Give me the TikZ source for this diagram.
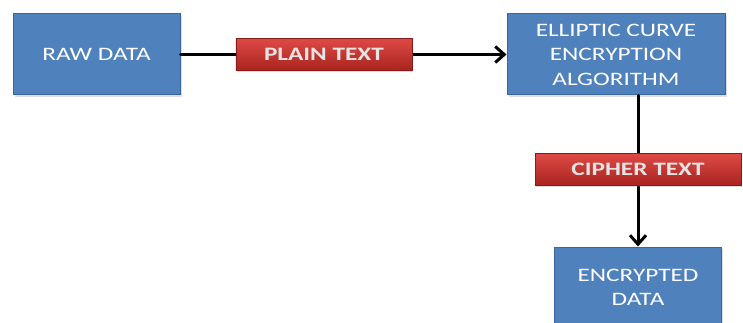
\documentclass[tikz,border=0pt]{standalone}
\usepackage{fontspec}
\setmainfont[FakeStretch=1.33]{Carlito}
\usetikzlibrary{arrows.meta, shadows}
\definecolor{boxblue}{HTML}{4F81BD}
\definecolor{boxedge}{HTML}{3A659A}
\definecolor{tagtop}{HTML}{DE4A45}
\definecolor{tagbot}{HTML}{A8231F}
\definecolor{tagtext}{HTML}{E4E4E4}

\begin{document}
\begin{tikzpicture}[x=1pt, y=-1pt,
    block/.style={draw=boxedge, line width=1pt, fill=boxblue, text=white,
      minimum height=81pt, align=center,
      font=\fontsize{19}{24.5}\selectfont,
      drop shadow={opacity=0.25, shadow xshift=1.5pt, shadow yshift=-2pt}},
    tag/.style={draw=tagbot!80!black, line width=0.4pt, top color=tagtop, bottom color=tagbot,
      text=tagtext, minimum height=32pt, inner xsep=2pt,
      font=\fontsize{19}{24.5}\selectfont\bfseries,
      drop shadow={opacity=0.3, shadow xshift=1pt, shadow yshift=-2pt}},
    link/.style={-{Straight Barb[length=9pt, width=16pt]}, line width=3pt, line cap=round}
  ]
  \useasboundingbox (0,0) rectangle (743,323);
  \clip (0,0) rectangle (743,323);

  % blocks
  \node[block, minimum width=167pt] (raw) at (96.5,54.5) {RAW DATA};
  \node[block, minimum width=218pt] (ecc) at (616,54.5)
    {ELLIPTIC CURVE\\ENCRYPTION\\ALGORITHM};
  \node[block, minimum width=167pt] (enc) at (638,287.5) {ENCRYPTED\\DATA};

  % connectors with their tags
  \draw[link] (raw.east) -- (ecc.west)
    node[tag, pos=0.44, minimum width=176pt] (plain) {PLAIN TEXT};
  \draw[link] (enc.north |- ecc.south) -- (enc.north)
    node[tag, pos=0.49, minimum width=206pt] (cipher) {CIPHER TEXT};
\end{tikzpicture}
\end{document}
